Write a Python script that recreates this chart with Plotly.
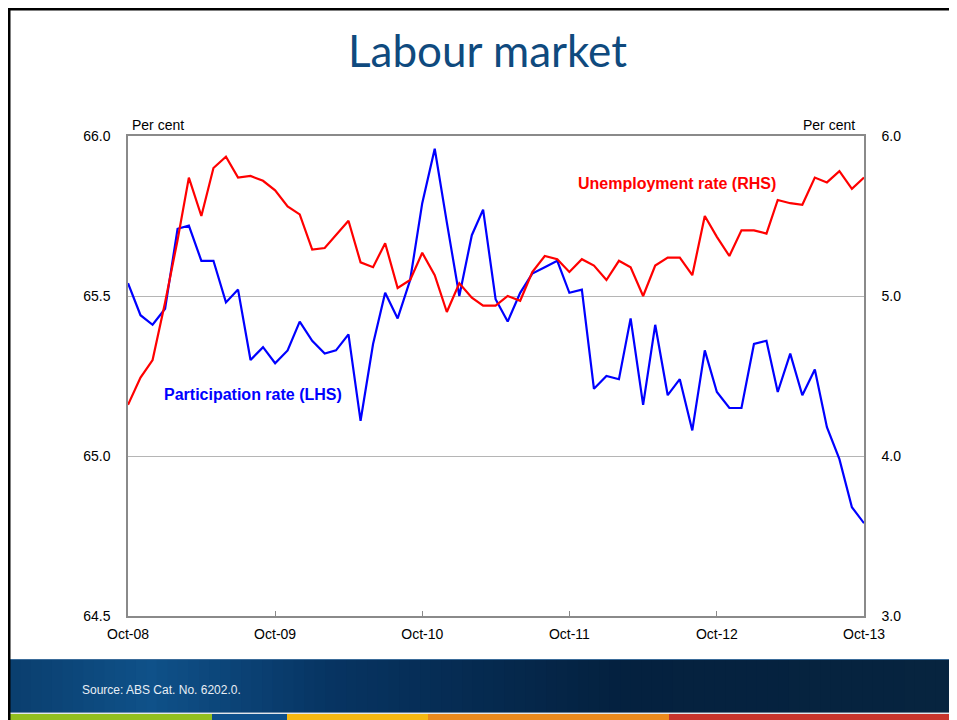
import plotly.graph_objects as go
import pandas as pd

# ---------------- data ----------------
months = pd.date_range("2008-10-01", periods=61, freq="MS")

participation_rate = [
    65.54, 65.44, 65.41, 65.46, 65.71, 65.72, 65.61, 65.61, 65.48, 65.52,
    65.30, 65.34, 65.29, 65.33, 65.42, 65.36, 65.32, 65.33, 65.38, 65.11,
    65.35, 65.51, 65.43, 65.55, 65.79, 65.96, 65.73, 65.50, 65.69, 65.77,
    65.49, 65.42, 65.51, 65.57, 65.59, 65.61, 65.51, 65.52, 65.21, 65.25,
    65.24, 65.43, 65.16, 65.41, 65.19, 65.24, 65.08, 65.33, 65.20, 65.15,
    65.15, 65.35, 65.36, 65.20, 65.32, 65.19, 65.27, 65.09, 64.99, 64.84,
    64.79,
]

unemployment_rate = [
    4.32, 4.49, 4.60, 4.96, 5.35, 5.74, 5.50, 5.80, 5.87, 5.74,
    5.75, 5.72, 5.66, 5.56, 5.51, 5.29, 5.30, 5.38, 5.47, 5.21,
    5.18, 5.33, 5.05, 5.10, 5.27, 5.13, 4.90, 5.08, 4.99, 4.94,
    4.94, 5.00, 4.97, 5.15, 5.25, 5.23, 5.15, 5.23, 5.19, 5.10,
    5.22, 5.18, 5.00, 5.19, 5.24, 5.24, 5.13, 5.50, 5.37, 5.25,
    5.41, 5.41, 5.39, 5.60, 5.58, 5.57, 5.74, 5.71, 5.78, 5.67,
    5.74,
]

x_tick_dates = ["2008-10-01", "2009-10-01", "2010-10-01", "2011-10-01", "2012-10-01", "2013-10-01"]
x_tick_labels = ["Oct-08", "Oct-09", "Oct-10", "Oct-11", "Oct-12", "Oct-13"]
lhs_ticks = [64.5, 65.0, 65.5, 66.0]
rhs_ticks = [3.0, 4.0, 5.0, 6.0]

# ---------------- layout geometry ----------------
# the page body adds an 8px margin, so the figure is drawn 8px in from the window edge
OFF = 8
W, H = 957 - OFF, 720 - OFF
ML, MT = 128 - OFF, 136 - OFF
MR = W - (864 - OFF)
MB = H - (616 - OFF)
PW, PH = W - ML - MR, H - MT - MB


def px(x):  # page pixel -> paper
    return (x - OFF - ML) / PW


def py(y):
    return (H + OFF - MB - y) / PH


FONT = "Liberation Sans, Arial, sans-serif"

fig = go.Figure()
fig.add_trace(go.Scatter(
    x=months, y=participation_rate, mode="lines", name="Participation rate (LHS)",
    line=dict(color="#0000FF", width=2.2), yaxis="y", showlegend=False,
))
fig.add_trace(go.Scatter(
    x=months, y=unemployment_rate, mode="lines", name="Unemployment rate (RHS)",
    line=dict(color="#FF0000", width=2.2), yaxis="y2", showlegend=False,
))

shapes = []


def hex2rgb(h):
    h = h.lstrip("#")
    return tuple(int(h[i:i + 2], 16) for i in (0, 2, 4))


stops = [(9, "#0a3e6e"), (150, "#0f5189"), (330, "#073462"), (620, "#04213f"), (957, "#07243f")]


def color_at(x):
    for (x0, c0), (x1, c1) in zip(stops[:-1], stops[1:]):
        if x0 <= x <= x1:
            t = (x - x0) / (x1 - x0)
            a, b = hex2rgb(c0), hex2rgb(c1)
            return "rgb(%d,%d,%d)" % tuple(round(a[i] + (b[i] - a[i]) * t) for i in range(3))
    return stops[-1][1]


# gradient band: layered rects, each running to the right edge (no seams)
n = 90
x0p = 9.5
step = (957 - x0p) / n
for i in range(n):
    xa = x0p + i * step
    shapes.append(dict(type="rect", xref="paper", yref="paper",
                       x0=px(xa), x1=px(962), y0=py(713), y1=py(659),
                       fillcolor=color_at(xa + step / 2), line=dict(width=0), layer="below"))

shapes.append(dict(type="line", xref="paper", yref="paper", x0=px(9.5), x1=px(962), y0=py(659.5), y1=py(659.5),
                   line=dict(color="#3b6c9a", width=1)))
shapes.append(dict(type="line", xref="paper", yref="paper", x0=px(9.5), x1=px(962), y0=py(713), y1=py(713),
                   line=dict(color="#c8d0da", width=1.2)))

stripe = [(9.5, 212, "#92bf1f"), (212, 287, "#0e4f8a"), (287, 428, "#f6b812"),
          (428, 669, "#ea8a1d"), (669, 962, "#c8352c")]
for xa, xb, c in stripe:
    shapes.append(dict(type="rect", xref="paper", yref="paper",
                       x0=px(xa), x1=px(xb), y0=py(722), y1=py(714),
                       fillcolor=c, line=dict(width=0)))

# black slide frame (top and left)
shapes.append(dict(type="line", xref="paper", yref="paper", x0=px(8), x1=px(962), y0=py(9), y1=py(9),
                   line=dict(color="black", width=3)))
shapes.append(dict(type="line", xref="paper", yref="paper", x0=px(9), x1=px(9), y0=py(8), y1=py(722),
                   line=dict(color="black", width=3)))

annotations = [
    dict(text="Labour market", x=px(487), y=py(50), xref="paper", yref="paper",
         showarrow=False, xanchor="center", yanchor="middle",
         font=dict(family="Lato, Open Sans, sans-serif", size=44, color="#0f4a7e")),
    dict(text="Per cent", x=px(130), y=py(135), xref="paper", yref="paper",
         showarrow=False, xanchor="left", yanchor="bottom",
         font=dict(family=FONT, size=14, color="black")),
    dict(text="Per cent", x=px(857), y=py(135), xref="paper", yref="paper",
         showarrow=False, xanchor="right", yanchor="bottom",
         font=dict(family=FONT, size=14, color="black")),
    dict(text="<b>Unemployment rate (RHS)</b>", x=px(576), y=py(183), xref="paper", yref="paper",
         showarrow=False, xanchor="left", yanchor="middle",
         font=dict(family=FONT, size=16, color="#FF0000")),
    dict(text="<b>Participation rate (LHS)</b>", x=px(162), y=py(394), xref="paper", yref="paper",
         showarrow=False, xanchor="left", yanchor="middle",
         font=dict(family=FONT, size=16, color="#0000FF")),
    dict(text="Source: ABS Cat. No. 6202.0.", x=px(80), y=py(690), xref="paper", yref="paper",
         showarrow=False, xanchor="left", yanchor="middle",
         font=dict(family=FONT, size=12, color="#e8eef5")),
]

fig.update_layout(
    width=W, height=H,
    margin=dict(l=ML, r=MR, t=MT, b=MB, pad=0),
    paper_bgcolor="white", plot_bgcolor="white",
    showlegend=False,
    shapes=shapes,
    annotations=annotations,
    xaxis=dict(
        type="date", range=["2008-10-01", "2013-10-01"],
        tickvals=x_tick_dates, ticktext=x_tick_labels,
        ticks="inside", ticklen=5, tickcolor="#8a8a8a", tickwidth=1,
        showline=True, linecolor="#8a8a8a", linewidth=1.5, mirror=True,
        showgrid=False, zeroline=False,
        tickfont=dict(family=FONT, size=14, color="black"),
        ticklabelstandoff=4,
    ),
    yaxis=dict(
        range=[64.5, 66.0], tickvals=lhs_ticks, tickformat=".1f",
        ticks="", showline=True, linecolor="#8a8a8a", linewidth=1.5,
        showgrid=True, gridcolor="#b5b5b5", gridwidth=1.3, zeroline=False,
        tickfont=dict(family=FONT, size=14, color="black"),
        ticklabelstandoff=13,
    ),
    yaxis2=dict(
        range=[3.0, 6.0], tickvals=rhs_ticks, tickformat=".1f",
        overlaying="y", side="right", anchor="x",
        ticks="", showline=True, linecolor="#8a8a8a", linewidth=1.5,
        showgrid=False, zeroline=False,
        tickfont=dict(family=FONT, size=14, color="black"),
        ticklabelstandoff=13,
    ),
)

fig.write_html("out.html")
